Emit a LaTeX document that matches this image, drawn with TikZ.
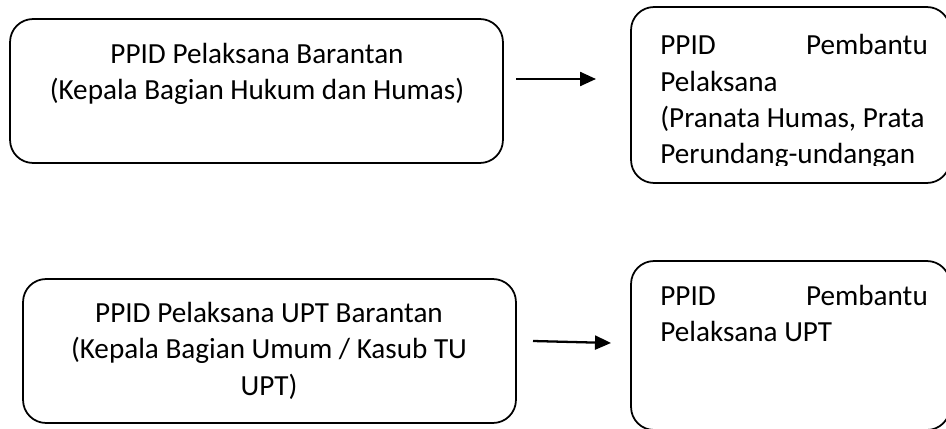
\documentclass[tikz,border=0pt]{standalone}
\usepackage{fontspec}
\setmainfont{Carlito}
\usetikzlibrary{arrows.meta, positioning}

\begin{document}
\begin{tikzpicture}[x=0.02cm, y=-0.02cm, >={Triangle[length=0.32cm, width=0.28cm]}]
		\tikzstyle{box} = [draw=black, line width=1pt, rounded corners=0.46cm, inner sep=0pt]
		\tikzstyle{txt} = [inner sep=0pt, font=\fontsize{16.6}{20.5}\selectfont]
		\tikzstyle{arr} = [->, line width=1.3pt]
		
		\useasboundingbox (0, 0) rectangle (946, 429);
		\clip (0, 0) rectangle (946, 429);
		
		% boxes
		\node[box, minimum width=9.86cm, minimum height=2.88cm] at (256.5, 91)	(b1) {};
		\node[box, minimum width=6.38cm, minimum height=3.52cm] at (790.5, 95)	(b2) {};
		\node[box, minimum width=9.86cm, minimum height=2.88cm] at (269.5, 351)	(b3) {};
		\node[box, minimum width=6.38cm, minimum height=3.38cm] at (790.5, 345.5)	(b4) {};
		
		% texts
		\node[txt, align=center, anchor=base] at (257, 100) (t1)
			{PPID Pelaksana Barantan\\(Kepala Bagian Hukum dan Humas)};
		\node[txt, align=center, anchor=base] at (269, 395) (t3)
			{PPID Pelaksana UPT Barantan\\(Kepala Bagian Umum / Kasub TU\\UPT)};
		\begin{scope}
			\clip (600, 0) rectangle (946, 165);
			\node[txt, text width=5.35cm, align=flush left, anchor=base west] at (660, 55) (t2)
				{PPID\hfill Pembantu\\Pelaksana\\(Pranata Humas, Prata\\Perundang-undangan};
		\end{scope}
		\node[txt, text width=5.35cm, align=flush left, anchor=base west] at (660, 305) (t4)
			{PPID\hfill Pembantu\\Pelaksana UPT};
		
		% arrows
		\coordinate (a1s) at (516, 79);
		\coordinate (a1e) at (596, 79);
		\coordinate (a2s) at (533, 341);
		\coordinate (a2e) at (611, 343);
		\draw[arr] (a1s) -- (a1e);
		\draw[arr] (a2s) -- (a2e);
\end{tikzpicture}
\end{document}
